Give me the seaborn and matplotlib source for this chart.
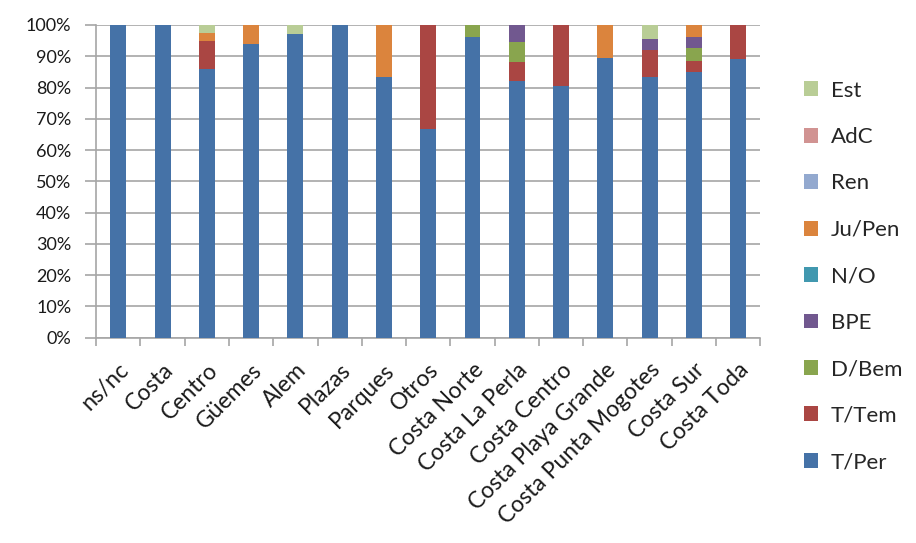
import matplotlib
matplotlib.use("Agg")
import matplotlib.pyplot as plt
import seaborn as sns
import numpy as np
import pandas as pd
from matplotlib.patches import Patch
from matplotlib.ticker import PercentFormatter

categories = ["ns/nc", "Costa", "Centro", "Güemes", "Alem", "Plazas", "Parques", "Otros",
              "Costa Norte", "Costa La Perla", "Costa Centro", "Costa Playa Grande",
              "Costa Punta Mogotes", "Costa Sur", "Costa Toda"]

t_per  = [100, 100, 86.0, 93.8, 97.0, 100, 83.5, 66.8, 96.3, 82.2, 80.5, 89.6, 83.5, 85.1, 89.0]
t_tem  = [0, 0, 9.0, 0, 0, 0, 0, 33.2, 0, 6.1, 19.5, 0, 8.5, 3.5, 11.0]
d_bem  = [0, 0, 0, 0, 0, 0, 0, 0, 3.7, 6.1, 0, 0, 0, 4.0, 0]
bpe    = [0, 0, 0, 0, 0, 0, 0, 0, 0, 5.6, 0, 0, 3.5, 3.7, 0]
n_o    = [0] * 15
ju_pen = [0, 0, 2.4, 6.2, 0, 0, 16.5, 0, 0, 0, 0, 10.4, 0, 3.7, 0]
ren    = [0] * 15
adc    = [0] * 15
est    = [0, 0, 2.6, 0, 3.0, 0, 0, 0, 0, 0, 0, 0, 4.5, 0, 0]

series_names = ["T/Per", "T/Tem", "D/Bem", "BPE", "N/O", "Ju/Pen", "Ren", "AdC", "Est"]
series_vals = [t_per, t_tem, d_bem, bpe, n_o, ju_pen, ren, adc, est]
colors = ["#4572A7", "#AA4643", "#89A54E", "#71588F", "#4198AF", "#DB843D",
          "#93A9CF", "#D19392", "#B9CD96"]

df = pd.DataFrame({n: v for n, v in zip(series_names, series_vals)}, index=categories)
cum = df.cumsum(axis=1)

sns.set_style("white")
plt.rcParams["font.family"] = ["Lato", "DejaVu Sans"]

fig = plt.figure(figsize=(9.16, 5.43), dpi=100)
ax = fig.add_axes([0.105, 0.378, 0.725, 0.576])

for name, col in reversed(list(zip(series_names, colors))):
    d = pd.DataFrame({"cat": categories, "val": cum[name].values})
    sns.barplot(data=d, x="cat", y="val", color=col, saturation=1, width=0.36,
                ax=ax, zorder=3, linewidth=0)

ax.set_ylim(0, 100)
ax.set_xlim(-0.5, len(categories) - 0.5)
ax.set_yticks(np.arange(0, 101, 10))
ax.yaxis.set_major_formatter(PercentFormatter(decimals=0))
ax.grid(axis="y", color="#A6A6A6", linewidth=1.2, zorder=0)
ax.set_xlabel("")
ax.set_ylabel("")
for s in ["top", "right"]:
    ax.spines[s].set_visible(False)
for s in ["left", "bottom"]:
    ax.spines[s].set_color("#A6A6A6")
    ax.spines[s].set_linewidth(1.2)
ax.tick_params(axis="y", left=True, length=8, color="#A6A6A6", width=1.2,
               labelsize=13, labelcolor="#1a1a1a", pad=10)
ax.set_xticks(range(len(categories)))
ax.set_xticklabels(categories, rotation=45, ha="right", rotation_mode="anchor")
ax.tick_params(axis="x", which="major", bottom=False, labelsize=16.5,
               labelcolor="#1a1a1a", pad=12)
ax.set_xticks(np.arange(-0.5, len(categories), 1.0), minor=True)
ax.tick_params(axis="x", which="minor", bottom=True, length=6, color="#A6A6A6", width=1.2)

handles = [Patch(facecolor=c, edgecolor="none", label=n)
           for n, c in zip(series_names, colors)][::-1]
fig.legend(handles=handles, loc="upper left", bbox_to_anchor=(0.868, 0.868),
           frameon=False, fontsize=16, handlelength=0.65, handleheight=0.65,
           labelspacing=1.19, handletextpad=0.55, borderaxespad=0)

fig.savefig("out.png", dpi=100)
